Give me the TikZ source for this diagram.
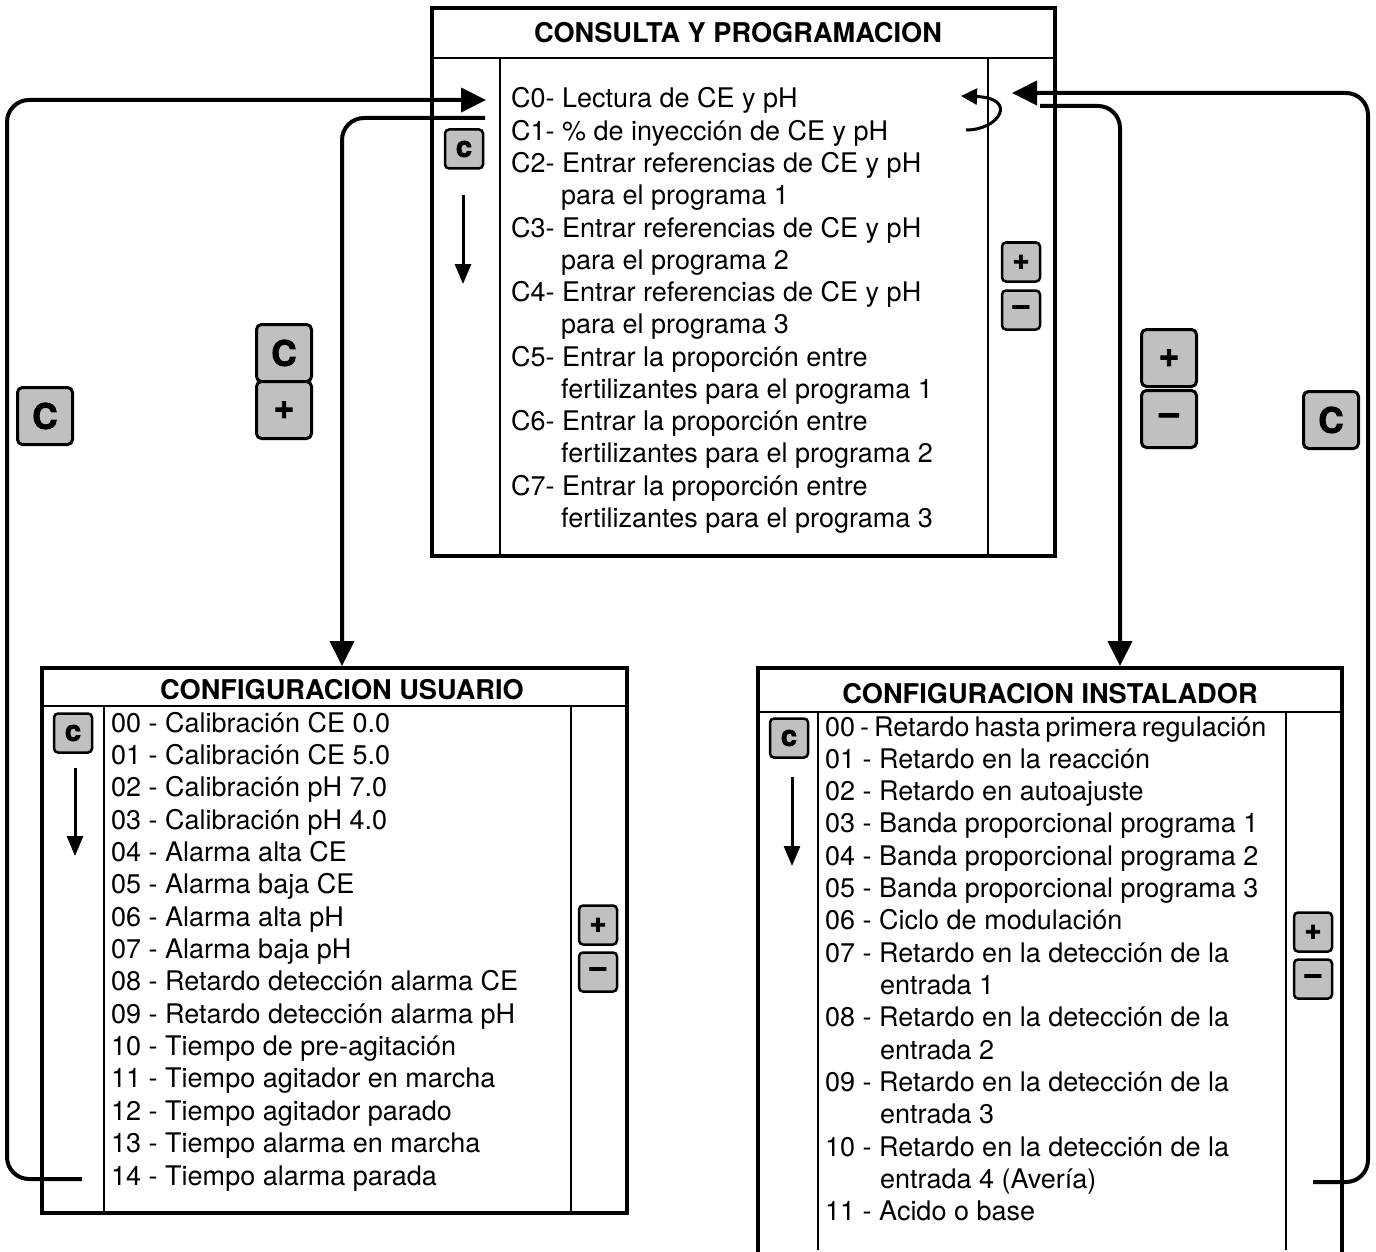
\documentclass[tikz,border=0pt]{standalone}
\usepackage{fontspec}
\setmainfont{TeX Gyre Heros}
\newfontfamily\keyfont{TeX Gyre Heros}[BoldFeatures={FakeBold=2.5}]
\usetikzlibrary{arrows.meta}
\definecolor{keygray}{RGB}{192,192,192}
\begin{document}
\begin{tikzpicture}[x=1pt,y=-1pt,
  box/.style={line width=4pt},
  sep/.style={line width=1.5pt},
  item/.style={anchor=base west, inner sep=0pt, font=\fontsize{27}{32}\selectfont},
  ttl/.style={anchor=base, inner sep=0pt, font=\bfseries\fontsize{27.2}{30}\selectfont},
  keysmall/.style={draw, line width=2.5pt, fill=keygray, rounded corners=4pt, minimum width=38pt, minimum height=39pt, inner sep=0pt, font=\keyfont\bfseries\fontsize{29}{29}\selectfont},
  keybig/.style={draw, line width=3pt, fill=keygray, rounded corners=5pt, minimum width=55pt, minimum height=57pt, inner sep=0pt, font=\keyfont\bfseries\fontsize{35}{35}\selectfont},
  conn/.style={line width=4pt, rounded corners=22pt},
  tip/.style={-{Triangle[length=25pt,width=24pt]}},
  down/.style={line width=3pt, -{Triangle[length=20pt,width=16pt]}},
  loopar/.style={line width=3pt, -{Triangle[length=16pt,width=16pt]}}
]
\useasboundingbox (0,0) rectangle (1376,1252);

% ---------- top box
\draw[box] (432,8) rectangle (1055,556);
\draw[sep] (432,58) -- (1055,58);
\draw[sep] (500,58) -- (500,556);
\draw[sep] (988,58) -- (988,556);
\node[ttl] (ttop) at (738,43) {CONSULTA Y PROGRAMACION};
\foreach \xx/\t [count=\k from 0] in {
  511/{C0- Lectura de CE y pH},
  511/{C1- \% de inyección de CE y pH},
  511/{C2- Entrar referencias de CE y pH},
  561/{para el programa 1},
  511/{C3- Entrar referencias de CE y pH},
  561/{para el programa 2},
  511/{C4- Entrar referencias de CE y pH},
  561/{para el programa 3},
  511/{C5- Entrar la proporción entre},
  561/{fertilizantes para el programa 1},
  511/{C6- Entrar la proporción entre},
  561/{fertilizantes para el programa 2},
  511/{C7- Entrar la proporción entre},
  561/{fertilizantes para el programa 3}}
  \node[item] (t\k) at (\xx,{108+32.25*\k}) {\t};

\node[keysmall] (kTopC) at (464,149) {c};
\coordinate (aTopS) at (463,195);
\coordinate (aTopE) at (463,284);
\draw[down] (aTopS) -- (aTopE);
\node[keysmall] (kTopPlus) at (1021,262) {+};
\node[keysmall] (kTopMinus) at (1021,310) {\textendash};

% loop arrow
\coordinate (lpS) at (966,130);
\coordinate (lpE) at (961,96);
\draw[loopar] (lpS) .. controls (1000,130) and (1018,98) .. (lpE);

% ---------- usuario box
\draw[box] (42,668) rectangle (627,1213);
\draw[sep] (42,706) -- (627,706);
\draw[sep] (104,706) -- (104,1213);
\draw[sep] (571,706) -- (571,1213);
\node[ttl] (tusu) at (342,699) {CONFIGURACION USUARIO};
\foreach \t [count=\k from 0] in {
  {00 - Calibración CE 0.0},
  {01 - Calibración CE 5.0},
  {02 - Calibración pH 7.0},
  {03 - Calibración pH 4.0},
  {04 - Alarma alta CE},
  {05 - Alarma baja CE},
  {06 - Alarma alta pH},
  {07 - Alarma baja pH},
  {08 - Retardo detección alarma CE},
  {09 - Retardo detección alarma pH},
  {10 - Tiempo de pre-agitación},
  {11 - Tiempo agitador en marcha},
  {12 - Tiempo agitador parado},
  {13 - Tiempo alarma en marcha},
  {14 - Tiempo alarma parada}}
  \node[item] (u\k) at (111,{732+32.36*\k}) {\t};
\node[keysmall] (kUC) at (73,733) {c};
\coordinate (aUS) at (75,768);
\coordinate (aUE) at (75,856);
\draw[down] (aUS) -- (aUE);
\node[keysmall] (kUPlus) at (598,925) {+};
\node[keysmall] (kUMinus) at (598,972) {\textendash};

% ---------- instalador box
\draw[box] (758,1254) -- (758,668) -- (1342,668) -- (1342,1254);
\draw[sep] (758,712) -- (1342,712);
\draw[sep] (818,712) -- (818,1250);
\draw[sep] (1286,712) -- (1286,1250);
\node[ttl] (tins) at (1050,703) {CONFIGURACION INSTALADOR};
\foreach \xx/\t [count=\k from 0] in {
  825/{{\spaceskip=5pt 00 - Retardo hasta primera regulación}},
  825/{01 - Retardo en la reacción},
  825/{02 - Retardo en autoajuste},
  825/{03 - Banda proporcional programa 1},
  825/{04 - Banda proporcional programa 2},
  825/{05 - Banda proporcional programa 3},
  825/{06 - Ciclo de modulación},
  825/{07 - Retardo en la detección de la},
  880/{entrada 1},
  825/{08 - Retardo en la detección de la},
  880/{entrada 2},
  825/{09 - Retardo en la detección de la},
  880/{entrada 3},
  825/{10 - Retardo en la detección de la},
  880/{entrada 4 (Avería)},
  825/{11 - Acido o base}}
  \node[item] (i\k) at (\xx,{736+32.33*\k}) {\t};
\node[keysmall] (kIC) at (789,738) {c};
\coordinate (aIS) at (792,777);
\coordinate (aIE) at (792,866);
\draw[down] (aIS) -- (aIE);
\node[keysmall] (kIPlus) at (1313,932) {+};
\node[keysmall] (kIMinus) at (1313,979) {\textendash};

% ---------- free keys
\node[keybig] (kMidC) at (284,353) {C};
\node[keybig] (kMidPlus) at (284,410) {+};
\node[keybig] (kLeftC) at (45,416) {C};
\node[keybig] (kRPlus) at (1169,358) {+};
\node[keybig] (kRMinus) at (1169,419) {\textendash};
\node[keybig] (kRC) at (1331,420) {C};

% ---------- connectors
\coordinate (uExit) at (82,1179);
\coordinate (lcB) at (7,1179);
\coordinate (lcT) at (7,100);
\coordinate (c0In) at (486,100);
\draw[conn, tip] (uExit) -- (lcB) -- (lcT) -- (c0In);

\coordinate (c1Out) at (485,118);
\coordinate (lc2) at (342,118);
\coordinate (uIn) at (342,666);
\draw[conn, tip] (c1Out) -- (lc2) -- (uIn);

\coordinate (iExit) at (1313,1182);
\coordinate (rcB) at (1368,1182);
\coordinate (rcT) at (1368,93);
\coordinate (c0InR) at (1012,93);
\draw[conn, tip] (iExit) -- (rcB) -- (rcT) -- (c0InR);

\coordinate (c1OutR) at (1040,106);
\coordinate (rc2) at (1120,106);
\coordinate (iIn) at (1120,666);
\draw[conn, tip] (c1OutR) -- (rc2) -- (iIn);
\end{tikzpicture}
\end{document}
